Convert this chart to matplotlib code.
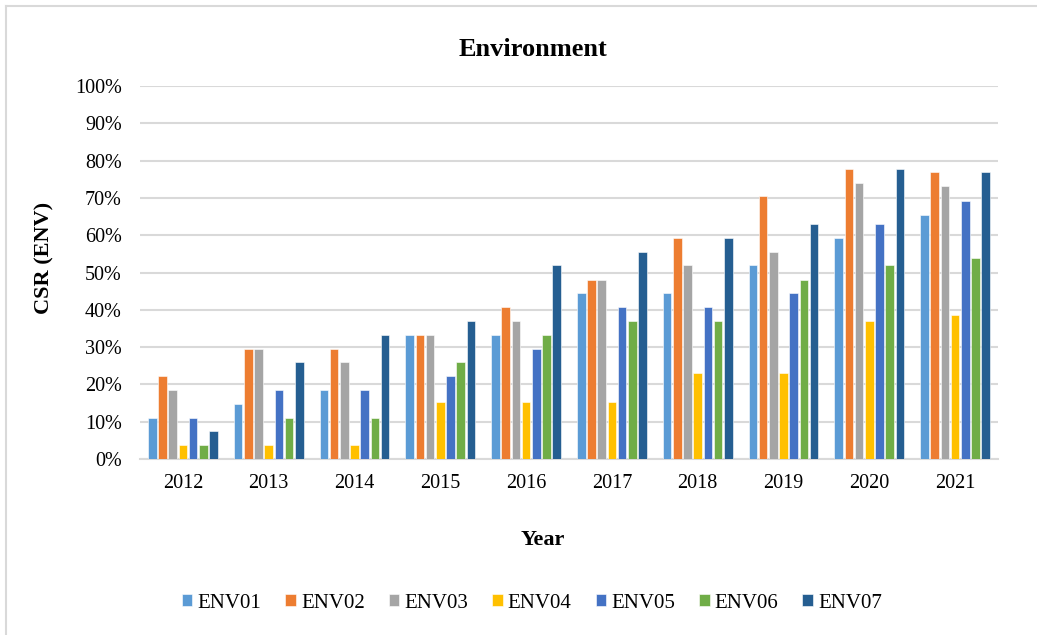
import matplotlib
matplotlib.use("Agg")
import matplotlib.pyplot as plt
from matplotlib.lines import Line2D
import numpy as np

years = ["2012", "2013", "2014", "2015", "2016", "2017", "2018", "2019", "2020", "2021"]
series_names = ["ENV01", "ENV02", "ENV03", "ENV04", "ENV05", "ENV06", "ENV07"]

ENV01 = [11.1, 14.8, 18.5, 33.3, 33.3, 44.4, 44.4, 51.9, 59.3, 65.4]
ENV02 = [22.2, 29.6, 29.6, 33.3, 40.7, 48.1, 59.3, 70.4, 77.8, 76.9]
ENV03 = [18.5, 29.6, 25.9, 33.3, 37.0, 48.1, 51.9, 55.6, 74.1, 73.1]
ENV04 = [3.7, 3.7, 3.7, 15.4, 15.4, 15.4, 23.1, 23.1, 37.0, 38.5]
ENV05 = [11.1, 18.5, 18.5, 22.2, 29.6, 40.7, 40.7, 44.4, 63.0, 69.2]
ENV06 = [3.7, 11.1, 11.1, 25.9, 33.3, 37.0, 37.0, 48.1, 51.9, 53.8]
ENV07 = [7.4, 25.9, 33.3, 37.0, 51.9, 55.6, 59.3, 63.0, 77.8, 76.9]

colors = ["#5B9BD5", "#ED7D31", "#A5A5A5", "#FFC000", "#4472C4", "#70AD47", "#255E91"]
all_series = [ENV01, ENV02, ENV03, ENV04, ENV05, ENV06, ENV07]

plt.rcParams['font.family'] = ['Liberation Serif', 'DejaVu Serif']

W, H = 1037, 635
fig = plt.figure(figsize=(W / 100, H / 100), dpi=100)
ax = fig.add_axes([140 / W, 1 - 459 / H, (998 - 140) / W, (459 - 86) / H])

x = np.arange(len(years))
step = 0.119
width = 0.099
for i, (name, vals, c) in enumerate(zip(series_names, all_series, colors)):
    ax.bar(x + (i - 3) * step, np.array(vals) / 100.0, width=width, color=c,
           label=name, zorder=3, edgecolor='white', linewidth=0.4)

ax.set_xlim(-0.5, len(years) - 0.5)
ax.set_ylim(0, 1.0)
ax.set_yticks(np.arange(0, 1.01, 0.1))
ax.set_yticklabels([f"{int(round(v * 100))}%" for v in np.arange(0, 1.01, 0.1)])
ax.set_xticks(x)
ax.set_xticklabels(years)
ax.grid(axis='y', color='#D9D9D9', linewidth=1.5, zorder=0)
for s in ['top', 'right', 'left']:
    ax.spines[s].set_visible(False)
ax.spines['bottom'].set_color('#D9D9D9')
ax.spines['bottom'].set_linewidth(1.5)
ax.tick_params(axis='y', length=0, pad=13, labelsize=14.5, colors='black')
ax.tick_params(axis='x', length=0, pad=11, labelsize=14.5, colors='black')

fig.text(533 / W, 1 - 49 / H, "Environment", ha='center', va='center',
         fontsize=19, fontweight='bold')
fig.text(543 / W, 1 - 540 / H, "Year", ha='center', va='center',
         fontsize=16, fontweight='bold')
fig.text(44 / W, 1 - 258 / H, "CSR (ENV)", ha='center', va='center',
         fontsize=16, fontweight='bold', rotation=90)

leg = fig.legend(loc='center', bbox_to_anchor=(532 / W, 1 - 603 / H), ncol=7,
                 frameon=False, fontsize=15, handlelength=0.5, handleheight=0.5,
                 handletextpad=0.25, columnspacing=1.15)

# chart area border (top and left visible)
fig.add_artist(Line2D([6 / W, 1.0], [1 - 6 / H, 1 - 6 / H], transform=fig.transFigure,
                      color='#D9D9D9', linewidth=1.5))
fig.add_artist(Line2D([6 / W, 6 / W], [0, 1 - 6 / H], transform=fig.transFigure,
                      color='#D9D9D9', linewidth=1.5))

fig.savefig("out.png", dpi=100)
